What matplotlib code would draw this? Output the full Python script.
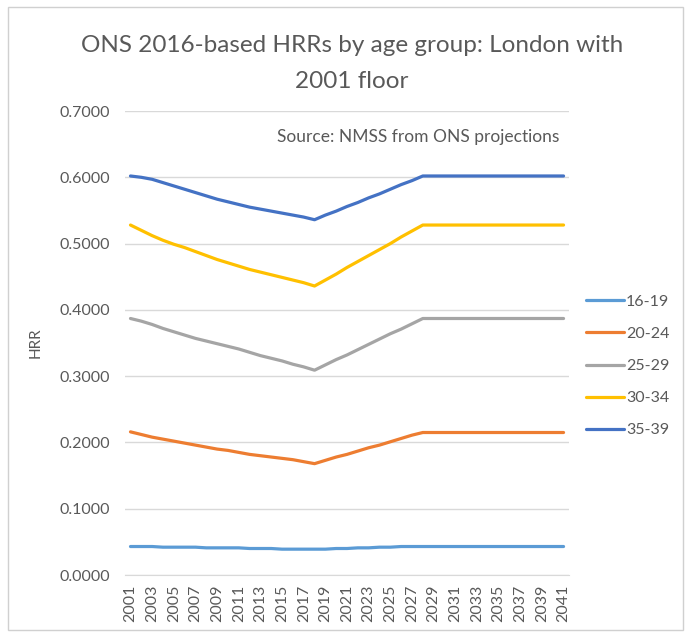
import matplotlib
matplotlib.use("Agg")
import matplotlib.pyplot as plt
from matplotlib.patches import Rectangle

years = list(range(2001, 2042))

hrr_16_19 = [0.043, 0.043, 0.043, 0.042, 0.042, 0.042, 0.042, 0.041, 0.041, 0.041,
             0.041, 0.040, 0.040, 0.040, 0.039, 0.039, 0.039, 0.039, 0.039, 0.040,
             0.040, 0.041, 0.041, 0.042, 0.042, 0.043, 0.043, 0.043]
hrr_20_24 = [0.216, 0.212, 0.208, 0.205, 0.202, 0.199, 0.196, 0.193, 0.190, 0.188,
             0.185, 0.182, 0.180, 0.178, 0.176, 0.174, 0.171, 0.168, 0.173, 0.178,
             0.182, 0.187, 0.192, 0.196, 0.201, 0.206, 0.211, 0.215]
hrr_25_29 = [0.387, 0.383, 0.378, 0.372, 0.367, 0.362, 0.357, 0.353, 0.349, 0.345,
             0.341, 0.336, 0.331, 0.327, 0.323, 0.318, 0.314, 0.309, 0.317, 0.325,
             0.332, 0.340, 0.348, 0.356, 0.364, 0.371, 0.379, 0.387]
hrr_30_34 = [0.528, 0.520, 0.512, 0.505, 0.499, 0.494, 0.488, 0.482, 0.476, 0.471,
             0.466, 0.461, 0.457, 0.453, 0.449, 0.445, 0.441, 0.436, 0.445, 0.454,
             0.464, 0.473, 0.482, 0.491, 0.500, 0.510, 0.519, 0.528]
hrr_35_39 = [0.602, 0.600, 0.597, 0.592, 0.587, 0.582, 0.577, 0.572, 0.567, 0.563,
             0.559, 0.555, 0.552, 0.549, 0.546, 0.543, 0.540, 0.536, 0.543, 0.549,
             0.556, 0.562, 0.569, 0.575, 0.582, 0.589, 0.595, 0.602]

# values after 2028 stay at the 2001 floor level (flat)
def extend(vals):
    return vals + [vals[-1]] * (len(years) - len(vals))

series = {
    "16-19": extend(hrr_16_19),
    "20-24": extend(hrr_20_24),
    "25-29": extend(hrr_25_29),
    "30-34": extend(hrr_30_34),
    "35-39": extend(hrr_35_39),
}
colors = {"16-19": "#5B9BD5", "20-24": "#ED7D31", "25-29": "#A5A5A5",
          "30-34": "#FFC000", "35-39": "#4472C4"}

yticks = [0.0, 0.1, 0.2, 0.3, 0.4, 0.5, 0.6, 0.7]
xticks = years[::2]

plt.rcParams['font.family'] = ['Lato', 'DejaVu Sans']

fig = plt.figure(figsize=(6.91, 6.37), dpi=100)
fig.patches.append(Rectangle((0.011, 0.011), 0.978, 0.978, transform=fig.transFigure,
                             fill=False, edgecolor="#D0D0D0", linewidth=1.0))
ax = fig.add_axes([0.181, 0.0973, 0.6424, 0.7284])

for name, vals in series.items():
    ax.plot(years, vals, color=colors[name], linewidth=2.3, label=name,
            solid_joinstyle="round", solid_capstyle="round")

ax.set_ylim(0, 0.7)
ax.set_xlim(2000.5, 2041.5)
ax.set_yticks(yticks)
ax.set_yticklabels([f"{v:.4f}" for v in yticks])
ax.set_xticks(xticks)
ax.set_xticklabels([str(x) for x in xticks], rotation=90)
ax.tick_params(axis='both', length=0, labelsize=11.5, colors="#595959")
ax.tick_params(axis='y', pad=11)
ax.tick_params(axis='x', pad=7)
ax.grid(axis='y', color="#D9D9D9", linewidth=1.0)
ax.set_axisbelow(True)
for s in ["top", "right", "left"]:
    ax.spines[s].set_visible(False)
ax.spines["bottom"].set_color("#D9D9D9")

ax.set_ylabel("HRR", fontsize=11, color="#595959", labelpad=12)

fig.text(352 / 691, 1 - 46 / 637, "ONS 2016-based HRRs by age group: London with",
         ha="center", va="center", fontsize=17.5, color="#595959")
fig.text(352 / 691, 1 - 81 / 637, "2001 floor",
         ha="center", va="center", fontsize=17.5, color="#595959")
ax.text(0.978, 0.945, "Source: NMSS from ONS projections", transform=ax.transAxes,
        ha="right", va="center", fontsize=12.5, color="#595959")

leg = fig.legend(loc="center left", bbox_to_anchor=(0.848, 1 - 366 / 637), frameon=False,
                 fontsize=11.5, handlelength=2.4, handletextpad=0.1, labelspacing=1.12,
                 borderaxespad=0, borderpad=0)
for t in leg.get_texts():
    t.set_color("#595959")

fig.savefig("out.png", dpi=100)
